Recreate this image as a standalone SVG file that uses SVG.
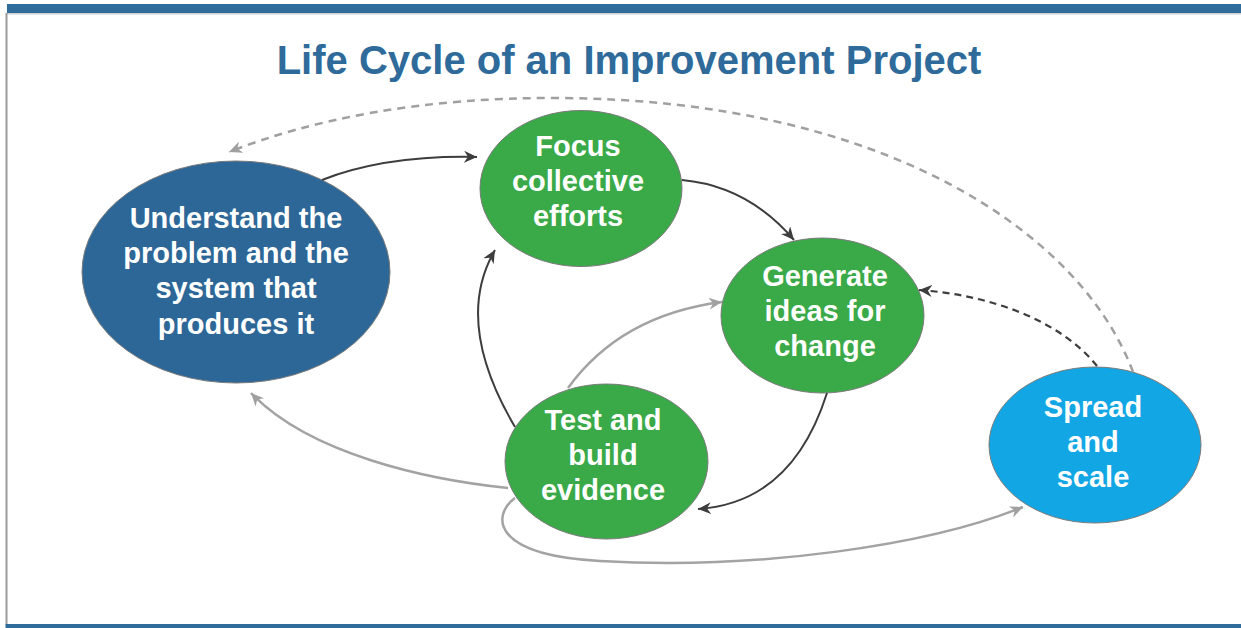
<svg xmlns="http://www.w3.org/2000/svg" width="1241" height="628" viewBox="0 0 1241 628">
<style>
.title{font-family:"Liberation Sans",Arial,sans-serif;font-weight:bold;font-size:40px;fill:#2e6a9a;text-anchor:middle}
.lbl{font-family:"Liberation Sans",Arial,sans-serif;font-weight:bold;font-size:29px;fill:#ffffff;text-anchor:middle}
.node{stroke:#7a7a7a;stroke-width:1}
.green{fill:#3aa947}
.dark{fill:none;stroke:#3d3d3d;stroke-width:2}
.gray{fill:none;stroke:#a3a3a3;stroke-width:2.5}
.dashdark{fill:none;stroke:#3d3d3d;stroke-width:2.2;stroke-dasharray:7 5}
.dashgray{fill:none;stroke:#a0a0a0;stroke-width:2.5;stroke-dasharray:8 6}
</style>
<defs>
<marker id="ad" markerUnits="userSpaceOnUse" markerWidth="14" markerHeight="12" refX="13" refY="6" orient="auto">
<path d="M0,0 L13,6 L0,12 L4,6 z" fill="#3d3d3d"/>
</marker>
<marker id="ag" markerUnits="userSpaceOnUse" markerWidth="14" markerHeight="12" refX="13" refY="6" orient="auto">
<path d="M0,0 L13,6 L0,12 L4,6 z" fill="#a0a0a0"/>
</marker>
</defs>
<rect x="0" y="0" width="1241" height="628" fill="#ffffff"/>
<g id="frame">
<rect x="7" y="4" width="1234" height="9" fill="#2f6c9c"/>
<rect x="7" y="13" width="1234" height="1.5" fill="#d0d0d0"/>
<rect x="5.5" y="13" width="2" height="612" fill="#9a9a9a"/>
<rect x="5.5" y="624" width="1235.5" height="4" fill="#2f6c9c"/>
</g>
<text class="title" x="629" y="74">Life Cycle of an Improvement Project</text>
<g id="understand">
<ellipse class="node" cx="236" cy="272" rx="154" ry="111" fill="#2d6797"/>
<text class="lbl" x="236" y="228">Understand the</text>
<text class="lbl" x="236" y="263">problem and the</text>
<text class="lbl" x="236" y="298">system that</text>
<text class="lbl" x="236" y="334">produces it</text>
</g>
<g id="focus">
<ellipse class="node green" cx="581" cy="188.5" rx="101" ry="78"/>
<text class="lbl" x="578" y="156">Focus</text>
<text class="lbl" x="578" y="191">collective</text>
<text class="lbl" x="578" y="226">efforts</text>
</g>
<g id="generate">
<ellipse class="node green" cx="822.5" cy="315.5" rx="101.5" ry="77.5"/>
<text class="lbl" x="825" y="286">Generate</text>
<text class="lbl" x="825" y="321">ideas for</text>
<text class="lbl" x="825" y="356">change</text>
</g>
<g id="test">
<ellipse class="node green" cx="606.5" cy="461.5" rx="101.5" ry="77.5"/>
<text class="lbl" x="603" y="430">Test and</text>
<text class="lbl" x="603" y="465">build</text>
<text class="lbl" x="603" y="500">evidence</text>
</g>
<g id="spread">
<ellipse class="node" cx="1095" cy="445" rx="106" ry="78" fill="#12a6e5"/>
<text class="lbl" x="1093" y="417">Spread</text>
<text class="lbl" x="1093" y="452">and</text>
<text class="lbl" x="1093" y="487">scale</text>
</g>
<g id="connectors">
<path class="dark" d="M322,180 Q386,155 477,157" marker-end="url(#ad)"/>
<path class="dark" d="M682,180 Q748,186 794,240" marker-end="url(#ad)"/>
<path class="dark" d="M827,393 Q792,503 698,509" marker-end="url(#ad)"/>
<path class="dark" d="M515,427 Q453,322 495,250" marker-end="url(#ad)"/>
<path class="gray" d="M568,388 Q621,315 722,302" marker-end="url(#ag)"/>
<path class="gray" d="M508,488 C430,480 310,455 251,393" marker-end="url(#ag)"/>
<path class="gray" d="M515,498 C492,515 490,555 600,561 C760,570 930,545 1023,507" marker-end="url(#ag)"/>
<path class="dashdark" d="M1097,366 C1060,320 990,295 919,290" marker-end="url(#ad)"/>
<path class="dashgray" d="M1133,372 C1080,230 880,100 560,98 C420,97 310,120 229,152" marker-end="url(#ag)"/>
</g>
</svg>
